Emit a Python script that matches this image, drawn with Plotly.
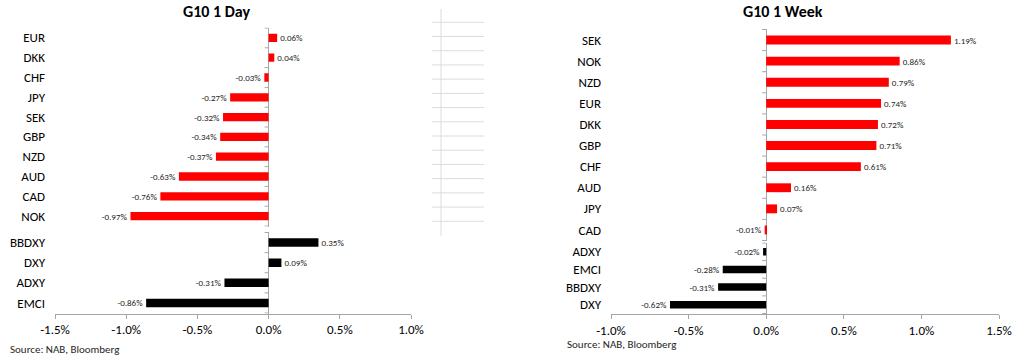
import plotly.graph_objects as go

# ---------------- data ----------------
day_ccy = ["EUR", "DKK", "CHF", "JPY", "SEK", "GBP", "NZD", "AUD", "CAD", "NOK"]
day_ccy_vals = [0.06, 0.04, -0.03, -0.27, -0.32, -0.34, -0.37, -0.63, -0.76, -0.97]
day_idx = ["BBDXY", "DXY", "ADXY", "EMCI"]
day_idx_vals = [0.35, 0.09, -0.31, -0.86]

week_ccy = ["SEK", "NOK", "NZD", "EUR", "DKK", "GBP", "CHF", "AUD", "JPY", "CAD"]
week_ccy_vals = [1.19, 0.86, 0.79, 0.74, 0.72, 0.71, 0.61, 0.16, 0.07, -0.01]
week_idx = ["ADXY", "EMCI", "BBDXY", "DXY"]
week_idx_vals = [-0.02, -0.28, -0.31, -0.62]

day_ticks = [-1.5, -1.0, -0.5, 0.0, 0.5, 1.0]
week_ticks = [-1.0, -0.5, 0.0, 0.5, 1.0, 1.5]

titles = ["G10 1 Day", "G10 1 Week"]
source = "Source: NAB, Bloomberg"

# ---------------- styling ----------------
W, H = 1024, 358
FONT = "Carlito, Lato, 'Liberation Sans', sans-serif"
RED = "#FF0000"
BLACK = "#000000"
AXIS = "#a6a6a6"
TXT = "#000000"
LBL = "#262626"


def px_x(p):
    return p / W


def px_y(p):
    return 1 - p / H


fig = go.Figure()

panels = [
    # (cats, vals, color, xaxis, yaxis)
    (day_ccy, day_ccy_vals, RED, "x", "y"),
    (day_idx, day_idx_vals, BLACK, "x2", "y2"),
    (week_ccy, week_ccy_vals, RED, "x3", "y3"),
    (week_idx, week_idx_vals, BLACK, "x4", "y4"),
]

for cats, vals, col, xa, ya in panels:
    fig.add_trace(go.Bar(
        y=cats, x=vals, orientation="h",
        marker=dict(color=col, line=dict(width=0)),
        text=[f"{v:.2f}%" for v in vals],
        textposition="outside",
        textfont=dict(family=FONT, size=9, color=LBL),
        constraintext="none",
        cliponaxis=False,
        xaxis=xa, yaxis=ya,
        showlegend=False, hoverinfo="skip",
    ))

left_dom = [px_x(55), px_x(411)]
right_dom = [px_x(611), px_x(999)]

common_y = dict(
    type="category", autorange="reversed", showline=False, showgrid=False,
    zeroline=False, ticks="", ticklabelstandoff=9, automargin=False,
    tickfont=dict(family=FONT, size=13, color=TXT),
)
hidden_x = dict(showticklabels=False, showline=False, showgrid=False, automargin=False,
                ticks="", zeroline=True, zerolinecolor=AXIS, zerolinewidth=1)


def shown_x(ticks):
    return dict(showline=True, linecolor=AXIS, linewidth=1, showgrid=False,
                ticks="outside", ticklen=4, tickcolor=AXIS, tickwidth=1,
                tickvals=ticks, ticktext=[f"{t:.1f}%" for t in ticks],
                tickfont=dict(family=FONT, size=13, color=TXT), automargin=False,
                zeroline=True, zerolinecolor=AXIS, zerolinewidth=1)


fig.update_layout(
    width=W, height=H,
    margin=dict(l=0, r=0, t=0, b=0, autoexpand=False),
    paper_bgcolor="white", plot_bgcolor="white",
    bargap=0.58,
    xaxis=dict(domain=left_dom, range=[day_ticks[0], day_ticks[-1]], anchor="y", **hidden_x),
    yaxis=dict(domain=[px_y(226.5), px_y(27.5)], anchor="x", **common_y),
    xaxis2=dict(domain=left_dom, range=[day_ticks[0], day_ticks[-1]], anchor="y2", **shown_x(day_ticks)),
    yaxis2=dict(domain=[px_y(313.5), px_y(232)], anchor="x2", **common_y),
    xaxis3=dict(domain=right_dom, range=[week_ticks[0], week_ticks[-1]], anchor="y3", **hidden_x),
    yaxis3=dict(domain=[px_y(241), px_y(29)], anchor="x3", **common_y),
    xaxis4=dict(domain=right_dom, range=[week_ticks[0], week_ticks[-1]], anchor="y4", **shown_x(week_ticks)),
    yaxis4=dict(domain=[px_y(314), px_y(242.5)], anchor="x4", **common_y),
)

# category boundary tick marks along the zero axis
shapes = []
for cats, vals, col, xa, ya in panels:
    for i in range(len(cats) + 1):
        shapes.append(dict(
            type="line", xref=xa, yref=ya, xsizemode="pixel", xanchor=0,
            x0=-4, x1=0, y0=i - 0.5, y1=i - 0.5,
            line=dict(color=AXIS, width=1),
        ))

# faint spreadsheet gridlines between the charts
shapes.append(dict(type="line", xref="paper", yref="paper",
                   x0=px_x(441), x1=px_x(441), y0=px_y(236), y1=px_y(9),
                   line=dict(color="#dcdcdc", width=1)))
for k in range(15):
    yy = 22.3 + 14.214 * k
    shapes.append(dict(type="line", xref="paper", yref="paper",
                       x0=px_x(432), x1=px_x(484), y0=px_y(yy), y1=px_y(yy),
                       line=dict(color="#dcdcdc", width=1)))
fig.update_layout(shapes=shapes)

# titles and sources
annos = [
    dict(text=f"<b>{titles[0]}</b>", x=px_x(216), y=px_y(12), xref="paper", yref="paper",
         showarrow=False, xanchor="center", yanchor="middle",
         font=dict(family=FONT, size=16, color=TXT)),
    dict(text=f"<b>{titles[1]}</b>", x=px_x(783), y=px_y(12), xref="paper", yref="paper",
         showarrow=False, xanchor="center", yanchor="middle",
         font=dict(family=FONT, size=16, color=TXT)),
    dict(text=source, x=px_x(8), y=px_y(349), xref="paper", yref="paper",
         showarrow=False, xanchor="left", yanchor="middle",
         font=dict(family=FONT, size=11, color="#262626")),
    dict(text=source, x=px_x(565), y=px_y(344), xref="paper", yref="paper",
         showarrow=False, xanchor="left", yanchor="middle",
         font=dict(family=FONT, size=11, color="#262626")),
]
fig.update_layout(annotations=annos)

fig.write_html("out.html", config={"displayModeBar": False},
               post_script="document.body.style.margin='0';")
